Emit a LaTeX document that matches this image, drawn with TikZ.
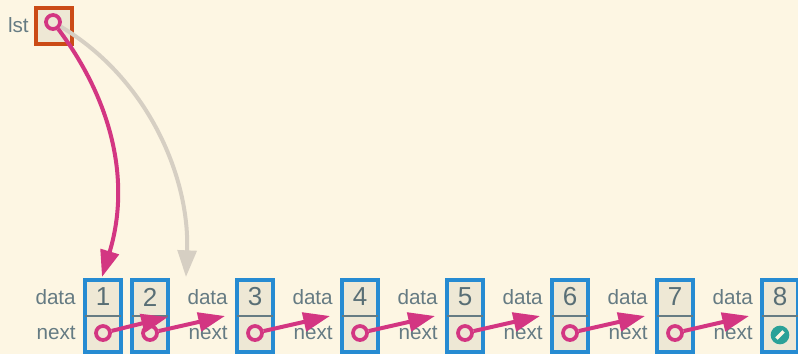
\documentclass[tikz,border=0pt]{standalone}
\usepackage{fontspec}
\setmainfont{Liberation Sans}
\usetikzlibrary{arrows.meta}
\definecolor{bg}{HTML}{FDF6E3}
\definecolor{cellfill}{HTML}{EEE8D5}
\definecolor{cblue}{HTML}{268BD2}
\definecolor{cpink}{HTML}{D33682}
\definecolor{corange}{HTML}{CB4B16}
\definecolor{cteal}{HTML}{2AA198}
\definecolor{ctext}{HTML}{657B83}
\definecolor{cnum}{HTML}{586E75}
\definecolor{cghost}{HTML}{D6CFC3}
\tikzset{
  cell/.style={draw=cblue, line width=3pt, fill=cellfill, minimum width=27pt, minimum height=54pt, inner sep=0pt},
  lstcell/.style={draw=corange, line width=3pt, fill=cellfill, minimum size=27pt, inner sep=0pt},
  divider/.style={draw=ctext, line width=0.8pt},
  num/.style={text=cnum, font=\fontsize{19.5}{19.5}\selectfont, inner sep=0pt},
  lbl/.style={text=ctext, font=\fontsize{15.5}{15.5}\selectfont, inner sep=0pt, anchor=east},
  ptr/.style={circle, draw=cpink, line width=2.8pt, minimum size=10.5pt, inner sep=0pt},
  nullptr/.style={circle, fill=cteal, minimum size=14pt, inner sep=0pt},
  nextarrow/.style={draw=cpink, line width=3pt, -{Triangle[length=20pt, width=14pt]}},
  headarrow/.style={draw=cpink, line width=3pt, -{Triangle[length=20pt, width=14pt]}},
  ghostarrow/.style={draw=cghost, line width=3pt, -{Triangle[length=20pt, width=14pt]}}
}
\begin{document}
\begin{tikzpicture}[x=0.75pt,y=-0.75pt]
\fill[bg] (0,0) rectangle (798,354);
\useasboundingbox (0,0) rectangle (798,354);

% nodes 2..8 with labels
\foreach \i/\cx in {2/150,3/255,4/360,5/465,6/570,7/675,8/780}{
  \node[lbl] (d\i) at (\cx-27,297) {data};
  \node[lbl] (n\i) at (\cx-27,333) {next};
  \node[cell] (b\i) at (\cx,316) {};
  \draw[divider] ([xshift=1.5pt]b\i.west) -- ([xshift=-1.5pt]b\i.east);
  \node[num] (v\i) at (\cx,297) {\i};
}
% node 1 (drawn over the labels of node 2)
\node[lbl] (d1) at (76,297) {data};
\node[lbl] (n1) at (76,333) {next};
\node[cell] (b1) at (103,316) {};
\draw[divider] ([xshift=1.5pt]b1.west) -- ([xshift=-1.5pt]b1.east);
\node[num] (v1) at (103,297) {1};

% pointers
\foreach \i/\cx in {1/103,2/150,3/255,4/360,5/465,6/570,7/675}{
  \node[ptr] (c\i) at (\cx,333) {};
}
\node[nullptr] (c8) at (780,335) {};
\draw[bg, line width=2.6pt] ([shift={(-2.7pt,-2.7pt)}]c8.center) -- ([shift={(2.7pt,2.7pt)}]c8.center);

% next arrows
\coordinate (t2) at (168,317);
\coordinate (t3) at (225,316);
\coordinate (t4) at (330,316);
\coordinate (t5) at (435,316);
\coordinate (t6) at (540,316);
\coordinate (t7) at (645,316);
\coordinate (t8) at (749,316);
\foreach \i/\j in {1/2,2/3,3/4,4/5,5/6,6/7,7/8}{
  \draw[nextarrow] (c\i) -- (t\j);
}

% lst
\node[lbl] (lstlbl) at (29,25) {lst};
\node[lstcell] (lstbox) at (54,26) {};
\node[ptr] (lstc) at (53,22) {};
\coordinate (g1) at (186,277);
\coordinate (h1) at (102,277);
\draw[ghostarrow] (lstc) .. controls (150,80) and (190,180) .. (g1);
\draw[headarrow] (lstc) .. controls (115,105) and (130,185) .. (h1);
\end{tikzpicture}
\end{document}
